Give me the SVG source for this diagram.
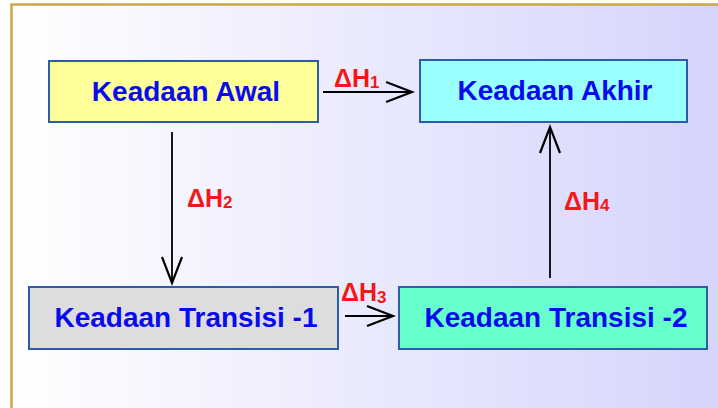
<svg xmlns="http://www.w3.org/2000/svg" width="718" height="408" viewBox="0 0 718 408">
<defs>
<linearGradient id="bg" x1="0" y1="0" x2="1" y2="0">
<stop offset="0" stop-color="#FFFFFF"/>
<stop offset="1" stop-color="#D4D4FC"/>
</linearGradient>
<marker id="head" markerUnits="userSpaceOnUse" markerWidth="32" markerHeight="26" viewBox="-28 -12 32 24" refX="0" refY="0" orient="auto">
<path d="M-26,-10 L0,0 L-26,10" fill="none" stroke="#000" stroke-width="2.2" stroke-linejoin="miter"/>
</marker>
</defs>
<style>
.box{stroke:#2F5CA8;stroke-width:2}
.lbl{font-family:"Liberation Sans",Arial,sans-serif;font-weight:bold;font-size:28px;fill:#0A0AEE;text-anchor:middle}
.dh{font-family:"Liberation Sans",Arial,sans-serif;font-weight:bold;font-size:25px;fill:#F01818}
.sub{font-size:17px}
.conn{stroke:#000;stroke-width:1.8;fill:none;marker-end:url(#head)}
</style>
<rect x="0" y="0" width="718" height="408" fill="#FFFFFF"/>
<rect x="12" y="5" width="720" height="420" fill="url(#bg)"/>
<path d="M11.5,408 L11.5,4.5 L718,4.5" fill="none" stroke="#C8A848" stroke-width="2.5"/>

<g id="connectors">
<line class="conn" x1="323" y1="92" x2="412" y2="92"/>
<line class="conn" x1="172" y1="132" x2="172" y2="283"/>
<line class="conn" x1="345" y1="316" x2="393" y2="316"/>
<line class="conn" x1="550" y1="278" x2="550" y2="127"/>
<text class="dh" x="334" y="87">ΔH<tspan class="sub" dy="1">1</tspan></text>
<text class="dh" x="187" y="207">ΔH<tspan class="sub" dy="1">2</tspan></text>
<text class="dh" x="341" y="301">ΔH<tspan class="sub" dy="2">3</tspan></text>
<text class="dh" x="564" y="210">ΔH<tspan class="sub" dy="1">4</tspan></text>
</g>

<g id="awal">
<rect class="box" x="49" y="61" width="269" height="61" fill="#FFFF99"/>
<text class="lbl" x="186" y="101">Keadaan Awal</text>
</g>
<g id="akhir">
<rect class="box" x="420" y="60" width="267" height="62" fill="#99FFFF"/>
<text class="lbl" x="555" y="100">Keadaan Akhir</text>
</g>
<g id="transisi1">
<rect class="box" x="29" y="287" width="309" height="62" fill="#DDDDDD"/>
<text class="lbl" x="186" y="327">Keadaan Transisi -1</text>
</g>
<g id="transisi2">
<rect class="box" x="399" y="287" width="308" height="62" fill="#66FFCC"/>
<text class="lbl" x="556" y="327">Keadaan Transisi -2</text>
</g>
</svg>
